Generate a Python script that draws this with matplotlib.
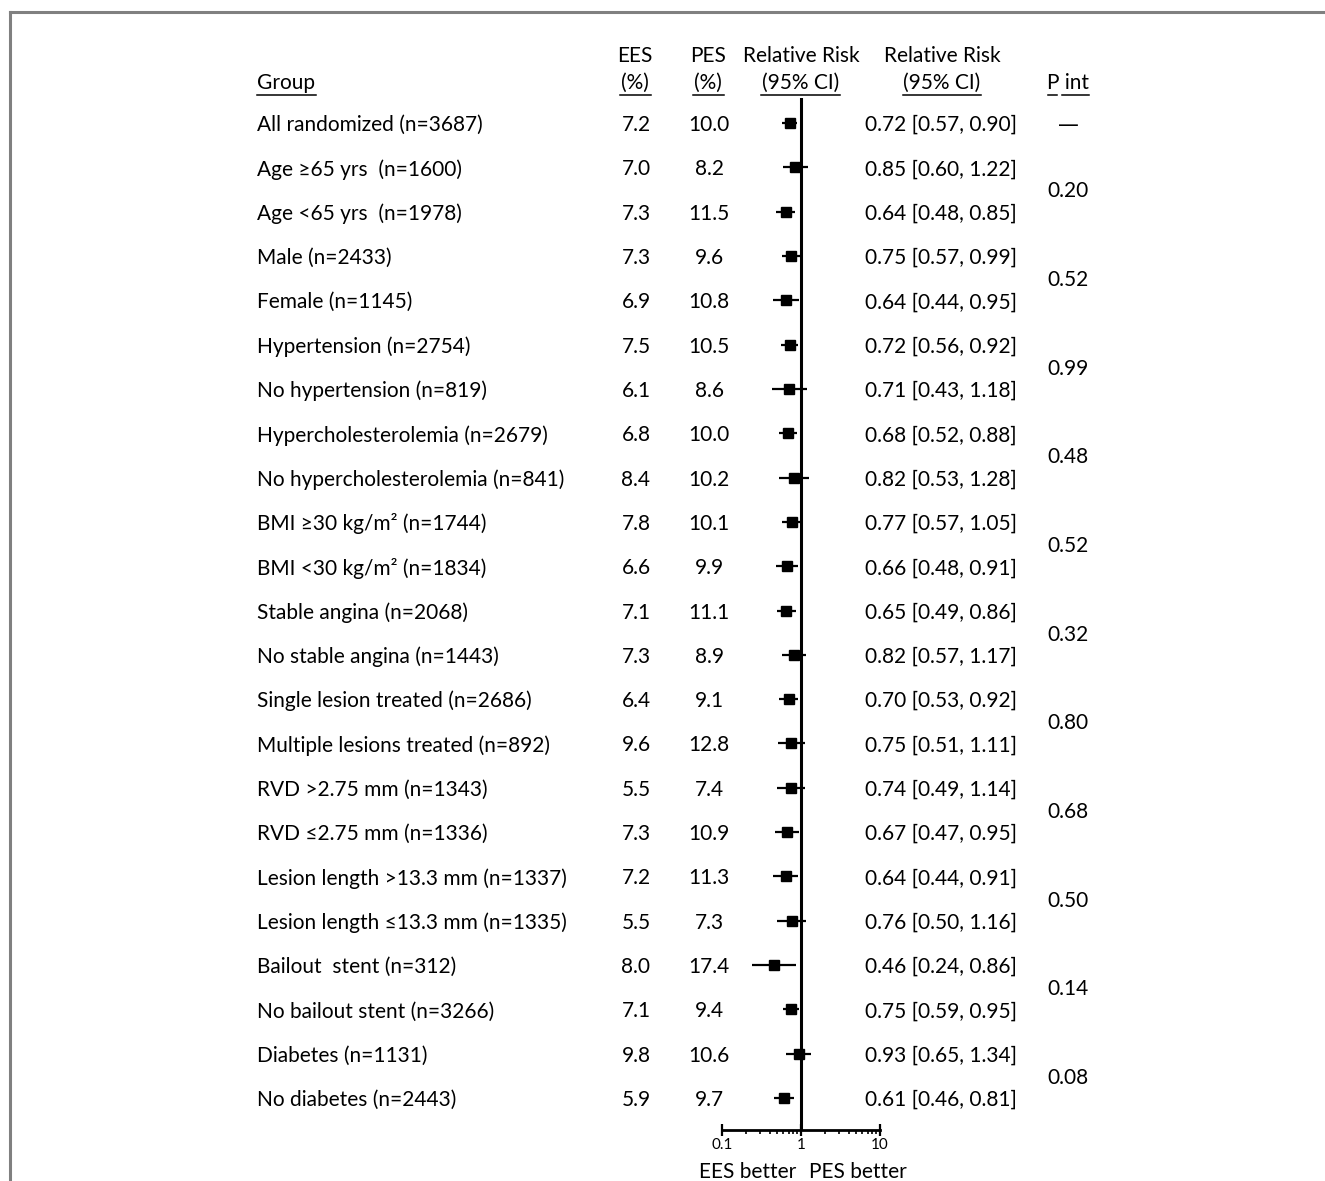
import numpy as np
import matplotlib
matplotlib.use("Agg")
import matplotlib.pyplot as plt

plt.rcParams['font.family'] = ['Lato', 'DejaVu Sans']

# data
groups = ["All randomized (n=3687)", "Age ≥65 yrs  (n=1600)", "Age <65 yrs  (n=1978)",
          "Male (n=2433)", "Female (n=1145)", "Hypertension (n=2754)",
          "No hypertension (n=819)", "Hypercholesterolemia (n=2679)",
          "No hypercholesterolemia (n=841)", "BMI ≥30 kg/m² (n=1744)",
          "BMI <30 kg/m² (n=1834)", "Stable angina (n=2068)", "No stable angina (n=1443)",
          "Single lesion treated (n=2686)", "Multiple lesions treated (n=892)",
          "RVD >2.75 mm (n=1343)", "RVD ≤2.75 mm (n=1336)",
          "Lesion length >13.3 mm (n=1337)", "Lesion length ≤13.3 mm (n=1335)",
          "Bailout  stent (n=312)", "No bailout stent (n=3266)", "Diabetes (n=1131)",
          "No diabetes (n=2443)"]
ees = [7.2, 7.0, 7.3, 7.3, 6.9, 7.5, 6.1, 6.8, 8.4, 7.8, 6.6, 7.1, 7.3, 6.4, 9.6,
       5.5, 7.3, 7.2, 5.5, 8.0, 7.1, 9.8, 5.9]
pes = [10.0, 8.2, 11.5, 9.6, 10.8, 10.5, 8.6, 10.0, 10.2, 10.1, 9.9, 11.1, 8.9, 9.1,
       12.8, 7.4, 10.9, 11.3, 7.3, 17.4, 9.4, 10.6, 9.7]
rr = [0.72, 0.85, 0.64, 0.75, 0.64, 0.72, 0.71, 0.68, 0.82, 0.77, 0.66, 0.65, 0.82,
      0.70, 0.75, 0.74, 0.67, 0.64, 0.76, 0.46, 0.75, 0.93, 0.61]
lo = [0.57, 0.60, 0.48, 0.57, 0.44, 0.56, 0.43, 0.52, 0.53, 0.57, 0.48, 0.49, 0.57,
      0.53, 0.51, 0.49, 0.47, 0.44, 0.50, 0.24, 0.59, 0.65, 0.46]
hi = [0.90, 1.22, 0.85, 0.99, 0.95, 0.92, 1.18, 0.88, 1.28, 1.05, 0.91, 0.86, 1.17,
      0.92, 1.11, 1.14, 0.95, 0.91, 1.16, 0.86, 0.95, 1.34, 0.81]
p_int = ["0.20", "0.52", "0.99", "0.48", "0.52", "0.32", "0.80", "0.68", "0.50",
         "0.14", "0.08"]

W, H = 1325, 1181
fig = plt.figure(figsize=(W / 100, H / 100), dpi=100)

# overlay axes in pixel coordinates for the table text
ax = fig.add_axes([0, 0, 1, 1])
ax.set_xlim(0, W)
ax.set_ylim(H, 0)
ax.axis('off')

# frame lines (top and left)
ax.plot([10, W], [12, 12], color='#808080', lw=2.2)
ax.plot([10, 10], [12, H], color='#808080', lw=2.2)

row_y0, row_dy = 123, 44.32
rows = np.arange(len(groups))
ypix = row_y0 + row_dy * rows

fs = 15
dy = 2  # text baseline nudge
for i, y in enumerate(ypix):
    ax.text(257, y + dy, groups[i], fontsize=fs, ha='left', va='center')
    ax.text(636, y + dy, f"{ees[i]:.1f}", fontsize=fs, ha='center', va='center')
    ax.text(709, y + dy, f"{pes[i]:.1f}", fontsize=fs, ha='center', va='center')
    ax.text(865, y + dy, f"{rr[i]:.2f} [{lo[i]:.2f}, {hi[i]:.2f}]", fontsize=fs,
            ha='left', va='center')

ax.text(1068, ypix[0] + dy, "—", fontsize=fs, ha='center', va='center',
        family=['DejaVu Sans'])
for k, p in enumerate(p_int):
    y = (ypix[1 + 2 * k] + ypix[2 + 2 * k]) / 2
    ax.text(1068, y + dy, p, fontsize=fs, ha='center', va='center')

# headers
h1, h2 = 56, 83
ax.text(257, h2, "Group", fontsize=fs, ha='left', va='center')
ax.text(635, h1, "EES", fontsize=fs, ha='center', va='center')
ax.text(635, h2, "(%)", fontsize=fs, ha='center', va='center')
ax.text(708, h1, "PES", fontsize=fs, ha='center', va='center')
ax.text(708, h2, "(%)", fontsize=fs, ha='center', va='center')
ax.text(801, h1, "Relative Risk", fontsize=fs, ha='center', va='center')
ax.text(801, h2, "(95% CI)", fontsize=fs, ha='center', va='center')
ax.text(942, h1, "Relative Risk", fontsize=fs, ha='center', va='center')
ax.text(942, h2, "(95% CI)", fontsize=fs, ha='center', va='center')
ax.text(1068, h2, "P int", fontsize=fs, ha='center', va='center')

# header underlines
for x0, x1 in [(257, 316), (620, 651), (693, 724), (761, 840), (903, 981),
               (1048, 1057), (1062, 1089)]:
    ax.plot([x0, x1], [95, 95], color='black', lw=1.1)

ax.text(748, 1172, "EES better", fontsize=fs, ha='center', va='center')
ax.text(858, 1172, "PES better", fontsize=fs, ha='center', va='center')

# forest plot axes: x 0.1..10 -> px 722..880, y px 98..1129
top_px, bot_px = 98, 1130
fx = fig.add_axes([722 / W, 1 - bot_px / H, (880 - 722) / W, (bot_px - top_px) / H])
fx.set_xscale('log')
fx.set_xlim(0.1, 10)
fx.set_ylim((bot_px - row_y0) / row_dy, (top_px - row_y0) / row_dy)
fx.patch.set_alpha(0)
for s in ['top', 'right', 'left']:
    fx.spines[s].set_visible(False)
fx.spines['bottom'].set_linewidth(2)
fx.set_yticks([])
fx.axvline(1, color='black', lw=2.2)

rr_a, lo_a, hi_a = np.array(rr), np.array(lo), np.array(hi)
fx.hlines(rows, lo_a, hi_a, color='black', lw=1.6)
fx.plot(rr_a, rows, 's', color='black', ms=6.5)

fx.set_xticks([0.1, 1, 10])
fx.set_xticklabels(["0.1", "1", "10"])
fx.tick_params(axis='x', which='major', direction='inout', length=9, width=1.6,
               labelsize=11, pad=1)
fx.tick_params(axis='x', which='minor', direction='out', length=3, width=1.2)

fig.savefig("out.png", dpi=100)
